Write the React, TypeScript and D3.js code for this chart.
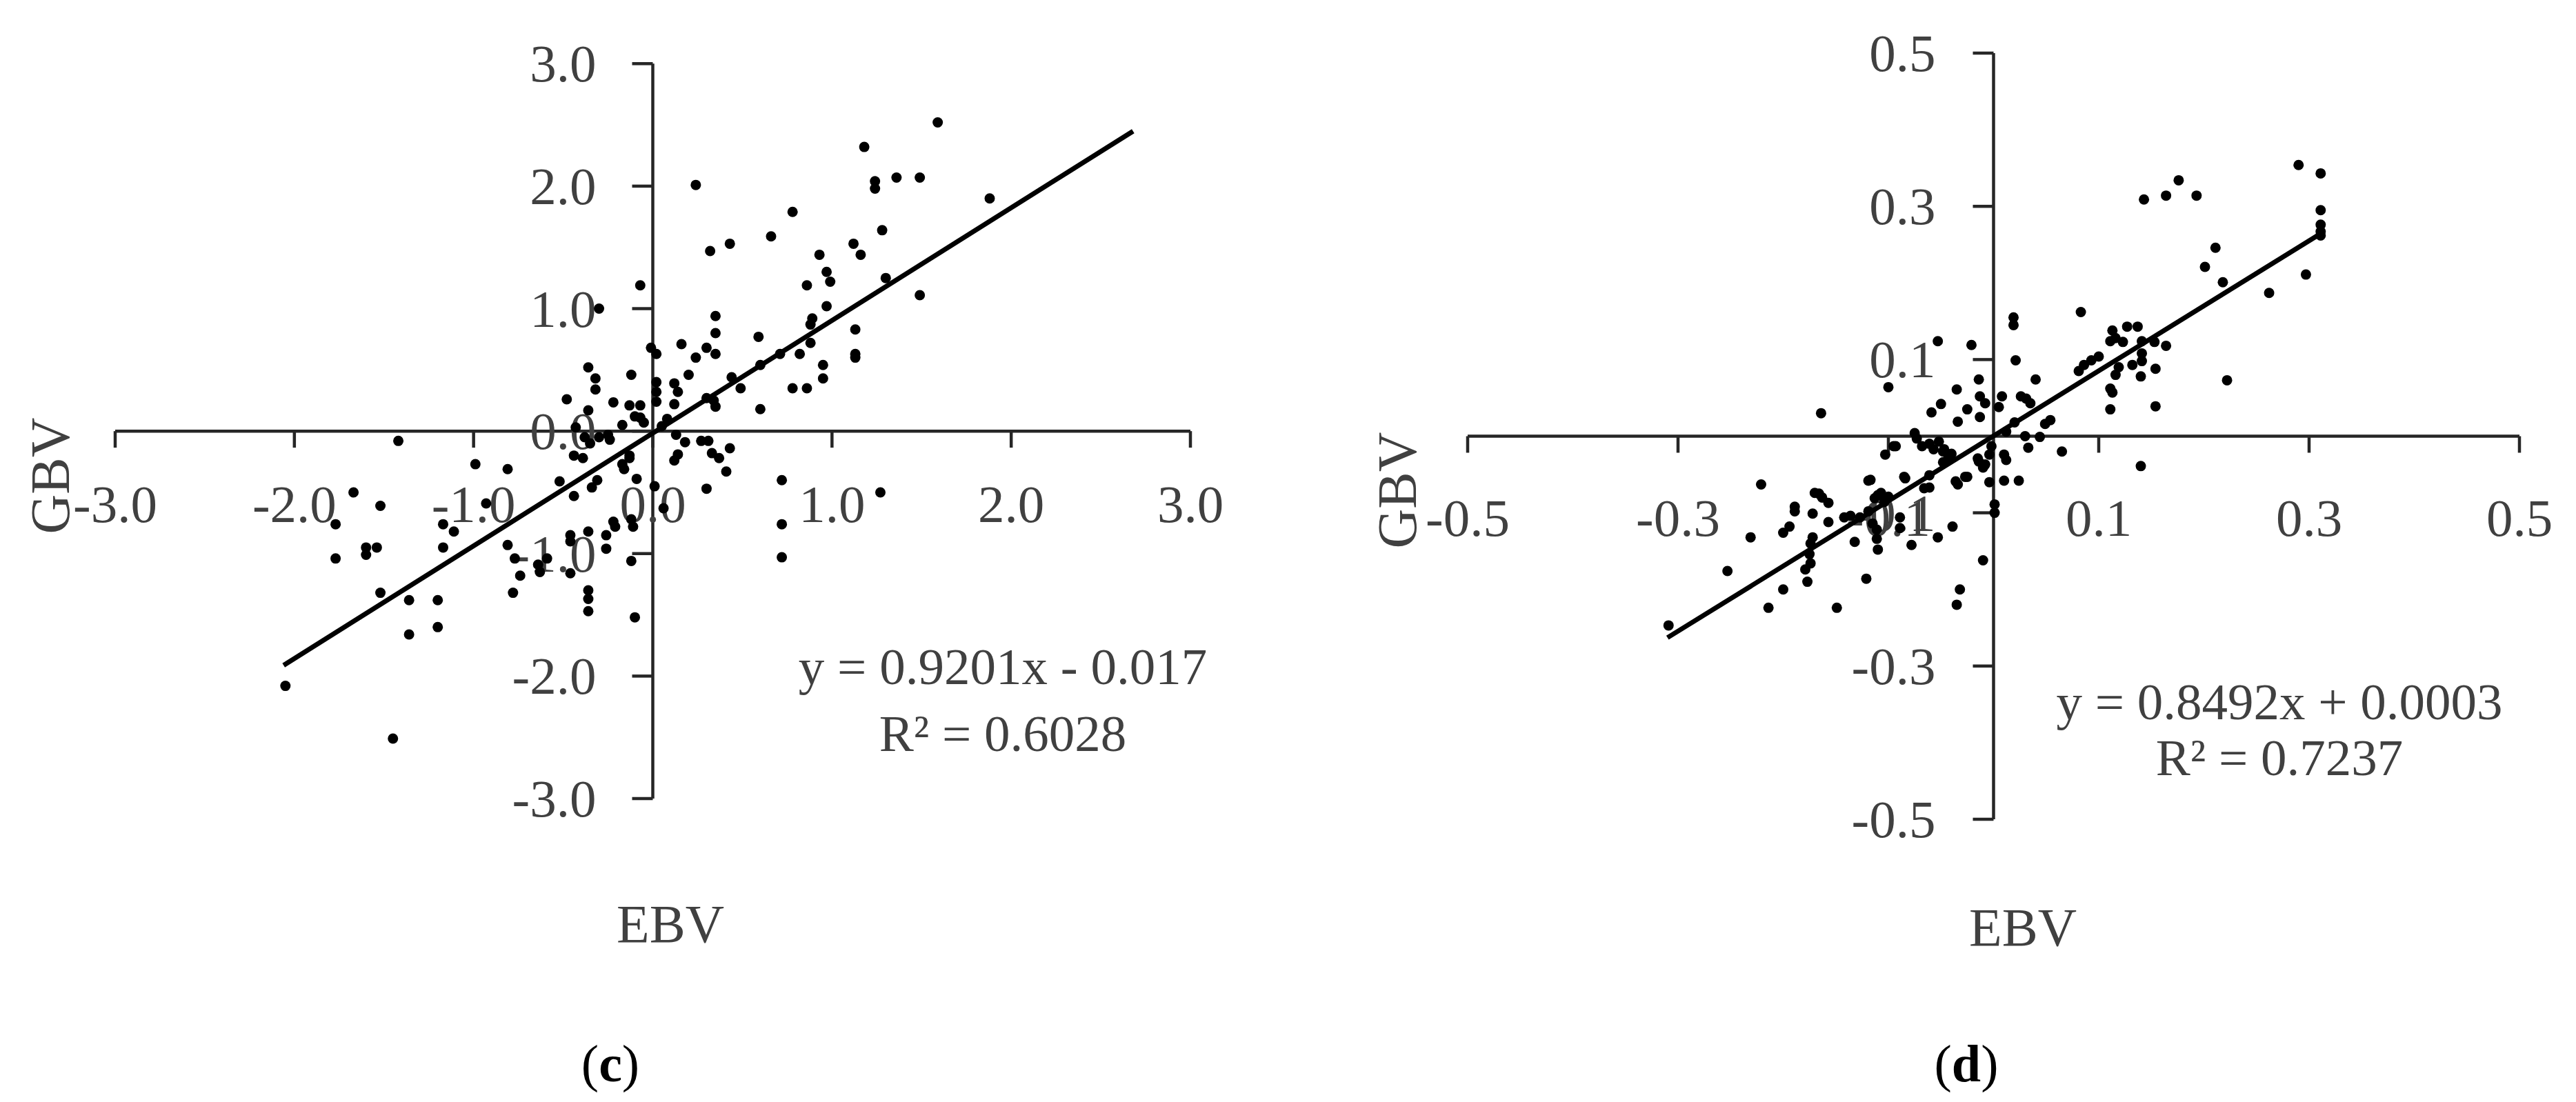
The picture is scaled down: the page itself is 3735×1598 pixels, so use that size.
import React from "react";
import * as d3 from "d3";

// ---------- DATA ----------
// Panel (c): EBV vs GBV
const pointsC: [number, number][] = [
  [1.59, 2.52], [1.18, 2.32], [1.24, 2.04], [1.24, 1.98], [1.36, 2.07], [1.49, 2.07], [1.88, 1.90],
  [0.24, 2.01], [0.78, 1.79], [0.66, 1.59], [0.43, 1.53], [0.32, 1.47], [1.28, 1.64], [1.12, 1.53],
  [1.16, 1.44], [0.93, 1.44], [0.97, 1.30], [0.99, 1.22], [0.86, 1.19], [1.30, 1.25], [1.49, 1.11],
  [0.97, 1.02], [0.35, 0.94], [0.35, 0.80], [0.89, 0.92], [0.88, 0.87], [1.13, 0.83], [0.59, 0.77],
  [0.16, 0.71], [0.30, 0.68], [0.35, 0.63], [0.24, 0.60], [0.02, 0.63], [0.71, 0.63], [0.82, 0.63],
  [0.88, 0.72], [1.13, 0.63], [1.13, 0.60], [0.95, 0.54], [0.95, 0.43], [0.78, 0.35], [0.86, 0.35],
  [0.60, 0.54], [0.44, 0.44], [0.49, 0.35], [0.20, 0.46], [0.12, 0.39], [0.14, 0.32], [0.02, 0.40],
  [0.02, 0.32], [0.02, 0.24], [0.12, 0.22], [0.60, 0.18], [0.34, 0.25], [0.35, 0.20], [0.30, 0.27],
  [0.08, 0.10], [0.05, 0.04],
  [-0.07, 1.19], [-0.30, 1.00], [-0.01, 0.68], [-0.36, 0.52], [-0.32, 0.43], [-0.32, 0.34],
  [-0.12, 0.46], [-0.48, 0.26], [-0.22, 0.235], [-0.13, 0.21], [-0.07, 0.21], [-0.10, 0.12],
  [-0.07, 0.11], [-0.05, 0.07], [-0.17, 0.05], [-0.43, 0.03], [-0.36, 0.17],
  [0.13, -0.03], [0.27, -0.08], [0.31, -0.08], [0.33, -0.18], [0.37, -0.22], [0.43, -0.14],
  [0.14, -0.19], [0.12, -0.24], [0.41, -0.33], [0.30, -0.47], [0.72, -0.40], [0.72, -0.76],
  [0.72, -1.03], [1.27, -0.50], [0.06, -0.63], [0.18, -0.09], [0.01, -0.45],
  [-1.42, -0.08], [-0.99, -0.27], [-0.81, -0.31], [-1.67, -0.50], [-1.52, -0.61], [-1.77, -0.76],
  [-1.17, -0.76], [-1.11, -0.82], [-0.93, -0.59], [-1.60, -0.95], [-1.54, -0.95], [-1.60, -1.01],
  [-1.77, -1.04], [-1.17, -0.95], [-0.81, -0.93], [-0.77, -1.04], [-0.64, -1.09], [-0.63, -1.15],
  [-0.74, -1.18], [-0.46, -1.16], [-0.46, -0.85], [-0.36, -0.82], [-0.26, -0.85], [-0.26, -0.96],
  [-0.22, -0.74], [-0.21, -0.78], [-0.12, -0.72], [-0.11, -0.78], [-0.12, -1.06], [-0.36, -1.30],
  [-0.36, -1.37], [-0.36, -1.47], [-0.10, -1.52], [-0.78, -1.32], [-1.52, -1.32], [-1.36, -1.38],
  [-1.20, -1.38], [-1.36, -1.66], [-1.20, -1.60], [-2.05, -2.08], [-1.45, -2.51], [-0.52, -0.41],
  [-0.44, -0.53], [-0.34, -0.46], [-0.31, -0.40], [-0.17, -0.27], [-0.16, -0.31], [-0.13, -0.20],
  [-0.13, -0.22], [-0.09, -0.39], [-0.44, -0.20], [-0.39, -0.22], [-0.25, -0.03], [-0.24, -0.07],
  [-0.38, -0.05], [-0.35, -0.10], [-0.30, -0.05], [-0.59, -1.04], [-0.46, -0.90],
];

// Panel (d): EBV vs GBV
const pointsD: [number, number][] = [
  [0.290, 0.354], [0.311, 0.343], [0.176, 0.334], [0.164, 0.314], [0.193, 0.314], [0.143, 0.309],
  [0.311, 0.295], [0.311, 0.276], [0.311, 0.267], [0.311, 0.262], [0.211, 0.246], [0.201, 0.221],
  [0.218, 0.201], [0.297, 0.211], [0.262, 0.187], [0.222, 0.073], [0.083, 0.162], [0.019, 0.155],
  [0.019, 0.145], [-0.053, 0.124], [-0.021, 0.119], [0.021, 0.099], [-0.100, 0.064], [-0.164, 0.030],
  [-0.014, 0.074], [0.040, 0.074], [-0.035, 0.061], [-0.050, 0.042], [-0.059, 0.031], [-0.025, 0.035],
  [-0.034, 0.019], [-0.013, 0.052], [-0.008, 0.043], [-0.013, 0.025], [0.008, 0.052], [0.005, 0.038],
  [0.026, 0.052], [0.031, 0.049], [0.035, 0.043], [0.020, 0.018], [0.030, 0.000], [0.012, 0.006],
  [0.054, 0.021], [0.049, 0.016], [0.044, -0.001], [0.033, -0.015], [0.065, -0.020], [0.140, -0.039],
  [0.111, 0.035], [0.154, 0.039], [0.111, 0.062], [0.113, 0.057], [0.116, 0.080], [0.119, 0.090],
  [0.154, 0.088], [0.140, 0.078], [0.132, 0.093], [0.081, 0.085], [0.086, 0.093], [0.093, 0.099],
  [0.100, 0.104], [0.113, 0.138], [0.116, 0.128], [0.127, 0.143], [0.137, 0.143], [0.111, 0.124],
  [0.123, 0.123], [0.141, 0.124], [0.153, 0.123], [0.164, 0.118], [0.141, 0.108], [0.141, 0.098],
  [0.010, -0.024], [0.012, -0.031], [-0.002, -0.013], [-0.004, -0.024], [-0.008, -0.037],
  [-0.004, -0.060], [0.010, -0.058], [0.024, -0.058], [-0.015, -0.029], [-0.027, -0.053],
  [-0.034, -0.063], [-0.048, -0.034], [-0.043, -0.024], [-0.061, -0.051], [-0.066, -0.068],
  [-0.084, -0.055], [-0.119, -0.058], [-0.103, -0.024], [-0.095, -0.013], [-0.075, 0.004],
  [-0.073, -0.003], [-0.068, -0.013], [-0.061, -0.010], [-0.057, -0.017], [-0.052, -0.007],
  [-0.048, -0.020], [-0.043, -0.029], [-0.107, -0.074], [-0.100, -0.079], [-0.170, -0.074],
  [-0.163, -0.080],
  [-0.221, -0.063], [-0.166, -0.075], [-0.157, -0.087], [-0.189, -0.092], [-0.189, -0.098],
  [-0.172, -0.101], [-0.157, -0.112], [-0.194, -0.118], [-0.200, -0.126], [-0.231, -0.132],
  [-0.253, -0.176], [-0.172, -0.132], [-0.174, -0.140], [-0.175, -0.154], [-0.174, -0.166],
  [-0.179, -0.174], [-0.177, -0.190], [-0.200, -0.200], [-0.214, -0.224], [-0.149, -0.224],
  [-0.121, -0.186], [-0.132, -0.138], [-0.142, -0.106], [-0.136, -0.104], [-0.127, -0.106],
  [-0.119, -0.098], [-0.113, -0.081], [-0.110, -0.077], [-0.104, -0.086], [-0.115, -0.114],
  [-0.111, -0.122], [-0.111, -0.134], [-0.110, -0.148], [-0.089, -0.106], [-0.089, -0.120],
  [-0.078, -0.142], [-0.053, -0.132], [-0.039, -0.118], [-0.085, -0.053], [-0.117, -0.057],
  [-0.061, -0.067], [-0.025, -0.053], [-0.036, -0.059], [-0.014, -0.033], [-0.010, -0.041],
  [0.001, -0.089], [0.001, -0.100], [-0.010, -0.162], [-0.032, -0.200], [-0.035, -0.220],
  [-0.093, -0.013], [-0.047, -0.017], [-0.040, -0.023], [-0.309, -0.247],
];

const ticksC = [-3, -2, -1, 0, 1, 2, 3];
const ticksD = [-0.5, -0.3, -0.1, 0.1, 0.3, 0.5];

// trend lines: slope, intercept, x-extent
const trendC = { slope: 0.9201, intercept: -0.017, xFrom: -2.06, xTo: 2.68 };
const trendD = { slope: 0.8492, intercept: 0.0003, xFrom: -0.31, xTo: 0.311 };

const eqTextC = ["y = 0.9201x - 0.017", "R² = 0.6028"];
const eqTextD = ["y = 0.8492x + 0.0003", "R² = 0.7237"];

// ---------- LAYOUT ----------
const W = 3735;
const H = 1598;
const FONT = "'Liberation Serif', 'Times New Roman', serif";
const TXT = "#404040";
const AX = "#262626";

type PanelCfg = {
  points: [number, number][];
  ticks: number[];
  domain: [number, number];
  trend: { slope: number; intercept: number; xFrom: number; xTo: number };
  eq: string[];
  tag: string;
  xRange: [number, number];
  yRange: [number, number];
  xLabelDy: number;
  yLabelDx: number;
  ebv: [number, number];
  gbv: [number, number];
  eqPos: [number, number, number];
  tagPos: [number, number];
};

const panels: PanelCfg[] = [
  {
    points: pointsC,
    ticks: ticksC,
    domain: [-3, 3],
    trend: trendC,
    eq: eqTextC,
    tag: "c",
    xRange: [167, 1726],
    yRange: [1158, 92.3],
    xLabelDy: 132,
    yLabelDx: 82,
    ebv: [972, 1366],
    gbv: [73, 690],
    eqPos: [1454, 992, 1089],
    tagPos: [885, 1568],
  },
  {
    points: pointsD,
    ticks: ticksD,
    domain: [-0.5, 0.5],
    trend: trendD,
    eq: eqTextD,
    tag: "d",
    xRange: [2128, 3653],
    yRange: [1188, 77],
    xLabelDy: 144,
    yLabelDx: 84,
    ebv: [2933, 1371],
    gbv: [2026, 711],
    eqPos: [3305, 1043, 1124],
    tagPos: [2851, 1568],
  },
];

// Excel-style label: plain hyphen minus, one decimal
const fmt = (t: number) => {
  const s = Math.abs(t) < 1e-9 ? "0.0" : Math.abs(t).toFixed(1);
  return t < -1e-9 ? "-" + s : s;
};

function Panel({ cfg }: { cfg: PanelCfg }) {
  const x = d3.scaleLinear().domain(cfg.domain).range(cfg.xRange);
  const y = d3.scaleLinear().domain(cfg.domain).range(cfg.yRange);
  const x0 = x(0);
  const y0 = y(0);
  const line = d3
    .line<number>()
    .x((v) => x(v))
    .y((v) => y(cfg.trend.slope * v + cfg.trend.intercept));
  const trendPath = line([cfg.trend.xFrom, cfg.trend.xTo]) || "";

  return (
    <g>
      {/* x axis */}
      <line x1={x(cfg.domain[0])} x2={x(cfg.domain[1])} y1={y0} y2={y0} stroke={AX} strokeWidth={4.5} />
      {cfg.ticks.map((t) => (
        <line key={"xt" + t} x1={x(t)} x2={x(t)} y1={y0} y2={y0 + 24} stroke={AX} strokeWidth={4.5} />
      ))}
      {/* y axis */}
      <line x1={x0} x2={x0} y1={y(cfg.domain[0])} y2={y(cfg.domain[1])} stroke={AX} strokeWidth={4.5} />
      {cfg.ticks.map((t) => (
        <line key={"yt" + t} x1={x0 - 30} x2={x0} y1={y(t)} y2={y(t)} stroke={AX} strokeWidth={4.5} />
      ))}
      {/* tick labels */}
      {cfg.ticks.map((t) => (
        <text
          key={"xl" + t}
          x={x(t)}
          y={y0 + cfg.xLabelDy}
          textAnchor="middle"
          fontFamily={FONT}
          fontSize={77}
          fill={TXT}
        >
          {fmt(t)}
        </text>
      ))}
      {cfg.ticks.map((t) => (
        <text
          key={"yl" + t}
          x={x0 - cfg.yLabelDx}
          y={y(t)}
          textAnchor="end"
          dominantBaseline="central"
          fontFamily={FONT}
          fontSize={77}
          fill={TXT}
        >
          {fmt(t)}
        </text>
      ))}
      {/* points */}
      {cfg.points.map((p, i) => (
        <circle key={"p" + i} cx={x(p[0])} cy={y(p[1])} r={7.5} fill="#000" />
      ))}
      {/* trend line */}
      <path d={trendPath} stroke="#000" strokeWidth={7} fill="none" />
      {/* equation */}
      <text x={cfg.eqPos[0]} y={cfg.eqPos[1]} textAnchor="middle" fontFamily={FONT} fontSize={75} fill={TXT}>
        {cfg.eq[0]}
      </text>
      <text x={cfg.eqPos[0]} y={cfg.eqPos[2]} textAnchor="middle" fontFamily={FONT} fontSize={75} fill={TXT}>
        {cfg.eq[1]}
      </text>
      {/* axis titles */}
      <text x={cfg.ebv[0]} y={cfg.ebv[1]} textAnchor="middle" fontFamily={FONT} fontSize={78} fill={TXT}>
        EBV
      </text>
      <text
        transform={`translate(${cfg.gbv[0]},${cfg.gbv[1]}) rotate(-90)`}
        textAnchor="middle"
        dominantBaseline="central"
        fontFamily={FONT}
        fontSize={80}
        fill={TXT}
      >
        GBV
      </text>
      {/* panel tag */}
      <text x={cfg.tagPos[0]} y={cfg.tagPos[1]} textAnchor="middle" fontFamily={FONT} fontSize={76} fill="#000">
        (<tspan fontWeight="bold">{cfg.tag}</tspan>)
      </text>
    </g>
  );
}

export default function App() {
  return (
    <svg
      width={W}
      height={H}
      viewBox={`0 0 ${W} ${H}`}
      style={{ position: "absolute", left: 0, top: 0, background: "#fff" }}
    >
      <rect x={0} y={0} width={W} height={H} fill="#fff" />
      {panels.map((p) => (
        <Panel key={p.tag} cfg={p} />
      ))}
    </svg>
  );
}
